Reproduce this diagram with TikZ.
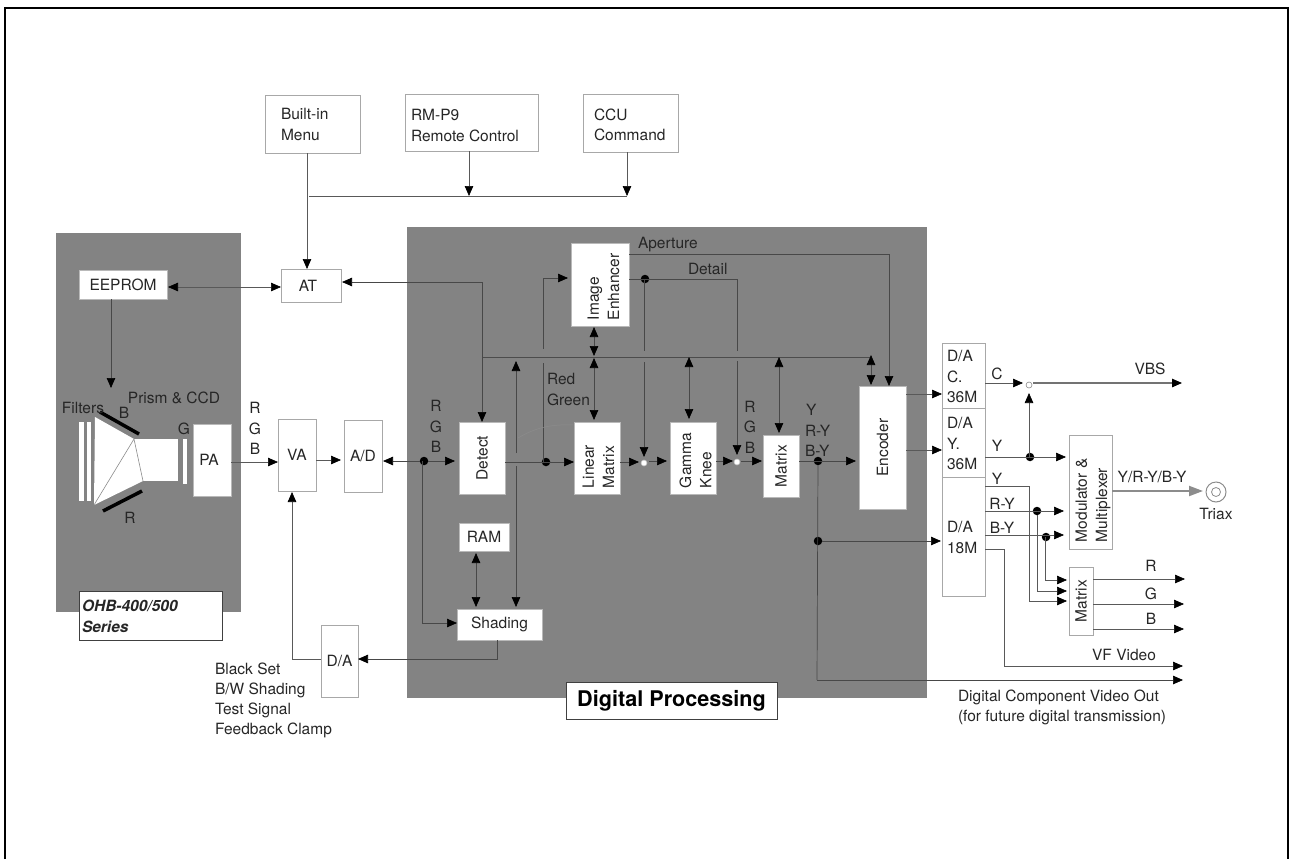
\documentclass[tikz,border=0pt]{standalone}
\usepackage{fontspec}
\usepackage{graphicx}
\setmainfont{TeX Gyre Heros}
\usetikzlibrary{arrows.meta,calc}
\definecolor{panel}{HTML}{838383}
\definecolor{edgeW}{HTML}{A8A8A8}
\definecolor{lineC}{HTML}{484848}
\newcounter{tn}
\tikzset{
  every node/.style={inner sep=0pt,outer sep=0pt},
  base font/.style={font=\fontsize{15.5}{20.2}\selectfont,text=black!85},
  txt/.style={base font,align=left},
  wbox/.style={base font,draw=edgeW,line width=.9pt,fill=white,align=center},
  gbox/.style={base font,draw=edgeW!80,line width=1pt,fill=white,align=center},
  kbox/.style={draw=black!75,line width=1pt,fill=white},
  wire/.style={draw=lineC,line width=.7pt},
  pale/.style={draw=black!65,line width=.65pt},
  bus/.style={draw=black!70,line width=1pt},
  sig/.style={draw=black!55,line width=1.1pt},
  tipped/.style={>={Triangle[length=10pt,width=8.5pt,color=black]}},
  dot/.style={circle,fill=black,minimum size=8.5pt},
  sumc/.style={circle,fill=white,draw=black!25,line width=.6pt,minimum size=6pt},
}
% box by its corners: style, name, x0, y0, x1, y1, text
\newcommand{\bx}[7]{\node[#1,minimum width=#5pt-#3pt,minimum height=#6pt-#4pt] (#2) at ({(#3+#5)/2},{(#4+#6)/2}) {#7};}
% free text: anchored by the centre of its capitals (first line)
\newcommand{\tl}[3]{\stepcounter{tn}\node[txt,anchor=north west] (t\arabic{tn}) at (#1,#2-5.5) {#3};}
\newcommand{\tc}[3]{\stepcounter{tn}\node[txt,anchor=base] (t\arabic{tn}) at (#1,#2+5.5) {#3};}
% rotated text: x of the first line, y where the text starts
\newcommand{\tr}[3]{\stepcounter{tn}\node[txt,rotate=90,anchor=north west] (t\arabic{tn}) at (#1-5.5,#2) {#3};}
\newcommand{\rot}[1]{\rotatebox{90}{#1}}
\begin{document}
\begin{tikzpicture}[x=1pt,y=-1pt,tipped]
\useasboundingbox (0,0) rectangle (1289,859);
% frame
\coordinate (fa) at (5,859); \coordinate (fb) at (5,8); \coordinate (fc) at (1288,8); \coordinate (fd) at (1288,859);
\draw[black,line width=2pt] (fa) -- (fb) -- (fc) -- (fd);
% panels
\bx{draw=none,fill=panel}{camP}{56}{233}{241}{612}{}
\bx{draw=none,fill=panel}{digP}{407}{227}{927}{698}{}

% optical block
\fill[white] (95,417) -- (134,439) -- (143,481) -- (94,505) -- cycle;
\fill[white] (134,439) rectangle (178,481);
\draw[black!45,line width=.6pt] (94,505) -- (134,439) -- (143,481);
\fill[white] (79,422) rectangle (84,501);
\fill[white] (87,422) rectangle (91,501);
\fill[white] (183,439) rectangle (187,484);
\draw[black,line width=3.5pt] (100,412) -- (139,434);
\draw[black,line width=3.5pt] (103,511) -- (142,491);

% white-on-grey boxes
\bx{gbox}{eeprom}{79}{270}{167}{299}{EEPROM}
\bx{gbox}{pa}{193}{424}{231}{496}{\hspace*{-6pt}PA}
\bx{gbox}{imgenh}{571}{243}{629}{326}{}
\bx{gbox}{detect}{459}{422}{505}{494}{\rot{Detect}}
\bx{gbox}{linmat}{574}{422}{620}{494}{}
\bx{gbox}{gamma}{670}{422}{716}{494}{}
\bx{gbox}{matrixA}{763}{435}{799}{497}{\rot{Matrix}}
\bx{gbox}{encoder}{859}{386}{906}{509}{\rot{Encoder}}
\bx{gbox}{ram}{459}{523}{509}{551}{RAM}
\bx{gbox}{shading}{457}{609}{542}{640}{Shading}

% white-ground boxes
\bx{wbox}{menu}{265}{95}{360}{153}{}
\bx{wbox}{rmp}{405}{94}{538}{151}{}
\bx{wbox}{ccu}{583}{94}{678}{152}{}
\bx{wbox}{at}{281}{269}{341}{302}{\hspace*{-6pt}AT}
\bx{wbox}{va}{278}{419}{316}{491}{VA}
\bx{wbox}{ad}{344}{420}{382}{492}{A/D}
\bx{wbox}{dab}{321}{625}{358}{697}{D/A}
\bx{wbox}{dac}{942}{343}{985}{408}{}
\bx{wbox}{day}{942}{408}{985}{477}{}
\bx{wbox}{das}{942}{477}{985}{596}{}
\bx{wbox}{mod}{1069}{435}{1112}{549}{}
\bx{wbox}{matrixB}{1069}{567}{1093}{635}{\rot{Matrix}}
\bx{kbox}{series}{79}{591}{222}{640}{}
\bx{kbox}{dpbox}{566}{682}{777}{719}{\fontsize{21.6}{24}\selectfont\bfseries Digital Processing}

% junctions
\node[dot] (jA) at (424,461) {};
\node[dot] (jB) at (546,462) {};
\node[dot] (jC) at (645,279) {};
\node[dot] (jD) at (818,461) {};
\node[dot] (jE) at (818,541) {};
\node[dot] (jF) at (1030,457) {};
\node[dot] (jG) at (1037,511) {};
\node[dot] (jH) at (1046,537) {};
\node[sumc] (s1) at (644,463) {};
\node[sumc] (s2) at (737,462) {};
\node[sumc,draw=black!45] (s3) at (1029,385) {};

% helper points
\coordinate (busL) at (483,357);
\coordinate (busR) at (871,357);
\coordinate (cbusL) at (309,196);
\coordinate (cbusR) at (627,196);

% control bus
\draw[pale,->] (menu.south -| 307,0) -- (at.north -| 307,0);
\draw[pale] (cbusL) -- (cbusR);
\draw[pale,->] (rmp.south -| 469,0) -- (469,196);
\draw[pale,->] (ccu.south -| cbusR) -- (cbusR);
\draw[pale,<->] (168,287) -- (at.west |- 0,287);
\draw[wire,->] (eeprom.south -| 111,0) -- (111,388);
\draw[wire,<->] (342,282) -- (482,282) -- (detect.north -| 482,0);

% video chain
\draw[pale,->] (pa.east |- 0,462) -- (va.west |- 0,462);
\draw[pale,->] (va.east |- 0,460) -- (341,460);
\draw[wire,<-] (383,461) -- (jA);
\draw[wire,->] (jA) -- (455,461);
\draw[wire,->] (422,461) -- (422,623) -- (shading.west |- 0,623);
\draw[wire,->] (detect.east |- 0,462) -- (linmat.west |- 0,462);
\draw[wire] (543,462) -- (543,363);
\draw[wire,->] (543,349) -- (543,278) -- (568,278);
\draw[wire,->] (linmat.east |- 0,462) -- (639,462);
\draw[wire,->] (649,461) -- (667,461);
\draw[wire,->] (gamma.east |- 0,461) -- (733,461);
\draw[wire,->] (741,461) -- (762,461);
\draw[wire,->] (matrixA.east |- 0,461) -- (856,461);

% processing bus
\draw[bus] (busL) -- (busR);
\draw[wire,->] (516,453) -- (516,361);
\draw[wire,->] (516,466) -- (516,607);
\draw[wire,<->] (594,327) -- (594,356);
\draw[wire,<->] (594,358) -- (594,420);
\draw[wire,<->] (689,357) -- (689,419);
\draw[wire,<->] (779,357) -- (779,433);
\draw[wire,<->] (871,355) -- (871,385);
\draw[wire,<->] (476,553) -- (476,607);

% enhancer outputs
\draw[wire,->] (imgenh.east |- 0,254) -- (889,254) -- (encoder.north -| 889,0);
\draw[wire] (imgenh.east |- 0,279) -- (737,279) -- (737,351);
\draw[wire,->] (737,361) -- (737,455);
\draw[wire] (644,279) -- (644,351);
\draw[wire,->] (644,362) -- (644,457);
\draw[black!45,line width=.5pt] (518,438) .. controls (535,428) and (550,424) .. (573,425);

% shading to VA
\draw[wire,->] (shading.south -| 497,0) -- (497,659) -- (dab.east |- 0,659);
\draw[pale,->] (dab.west |- 0,659) -- (292,659) -- (292,492);

% encoder to D/A
\draw[pale,->] (encoder.east |- 0,394) -- (942,394);
\draw[pale,->] (encoder.east |- 0,450) -- (942,450);
\draw[wire] (jD) -- (817,680);
\draw[wire,->] (817,680) -- (1183,680);
\draw[wire,->] (jE) -- (941,541);

% D/A outputs
\draw[pale,->] (dac.east |- 0,383) -- (1023,383);
\draw[sig,->] (1033,383) -- (1182,383);
\draw[pale,->] (day.east |- 0,457) -- (1066,457);
\draw[pale,->] (1029,457) -- (1029,393);
\draw[pale,->] (das.east |- 0,486) -- (1029,486) -- (1029,601) -- (1067,601);
\draw[pale,->] (das.east |- 0,511) -- (1064,511);
\draw[pale,->] (jG) -- (1037,591) -- (1067,591);
\draw[pale,->] (das.east |- 0,535) -- (1064,535);
\draw[pale,->] (1045,537) -- (1045,580) -- (1067,580);
\draw[pale,->] (das.east |- 0,549) -- (1004,549) -- (1004,666) -- (1183,666);
\draw[pale,->] (matrixB.east |- 0,579) -- (1185,579);
\draw[pale,->] (matrixB.east |- 0,604) -- (1184,604);
\draw[pale,->] (matrixB.east |- 0,629) -- (1184,629);
% triax
\node[circle,draw=black!45,line width=1pt,minimum size=20pt] (triax) at (1216,492) {};
\node[circle,draw=black!45,line width=.8pt,minimum size=9pt] (triaxI) at (triax) {};
\draw[draw=black!45,line width=2pt,-{Triangle[length=14pt,width=10pt,color=black!45]}] (mod.east |- 0,491) -- (1203,491);

% texts
\tl{281}{114}{Built-in\\Menu}
\tl{411}{115}{RM-P9\\Remote Control}
\tl{594}{114}{CCU\\Command}
\tc{174}{398}{Prism \& CCD}
\tc{83}{408}{Filters}
\tc{124}{413}{B}
\tc{184}{429}{G}
\tc{130}{518}{R}
\tc{255}{408}{R}\tc{255}{429}{G}\tc{255}{449}{B}
\tc{436}{406}{R}\tc{436}{427}{G}\tc{436}{447}{B}
\tl{547}{379}{Red\\Green}
\tc{750}{407}{R}\tc{750}{427}{G}\tc{750}{448}{B}
\tl{805}{410}{\hspace*{1pt}Y\\R-Y\\B-Y}
\tl{638}{243}{Aperture}
\tl{688}{269}{Detail}
\tr{593}{320}{Image\\Enhancer}
\tr{588}{488}{Linear\\Matrix}
\tr{685}{488}{Gamma\\Knee}
\tr{1081}{542}{Modulator \&\\Multiplexer}
\tl{947}{356}{D/A\\C.\\36M}
\tl{947}{423}{D/A\\Y.\\36M}
\tl{947}{527}{D/A\\18M}
\tc{997}{374}{C}
\tc{997}{446}{Y}
\tc{997}{479}{Y}
\tc{1002}{504}{R-Y}
\tc{1002}{528}{B-Y}
\tc{1150}{369}{VBS}
\tc{1152}{477}{Y/R-Y/B-Y}
\tc{1216}{514}{Triax}
\tc{1151}{566}{R}\tc{1151}{594}{G}\tc{1151}{619}{B}
\tc{1124}{655}{VF Video}
\tl{958}{695}{Digital Component Video Out\\(for future digital transmission)}
\tl{215}{668}{Black Set\\B/W Shading\\Test Signal\\Feedback Clamp}
\tl{82}{606}{\bfseries\itshape OHB-400/500\\\bfseries\itshape Series}
\end{tikzpicture}
\end{document}
